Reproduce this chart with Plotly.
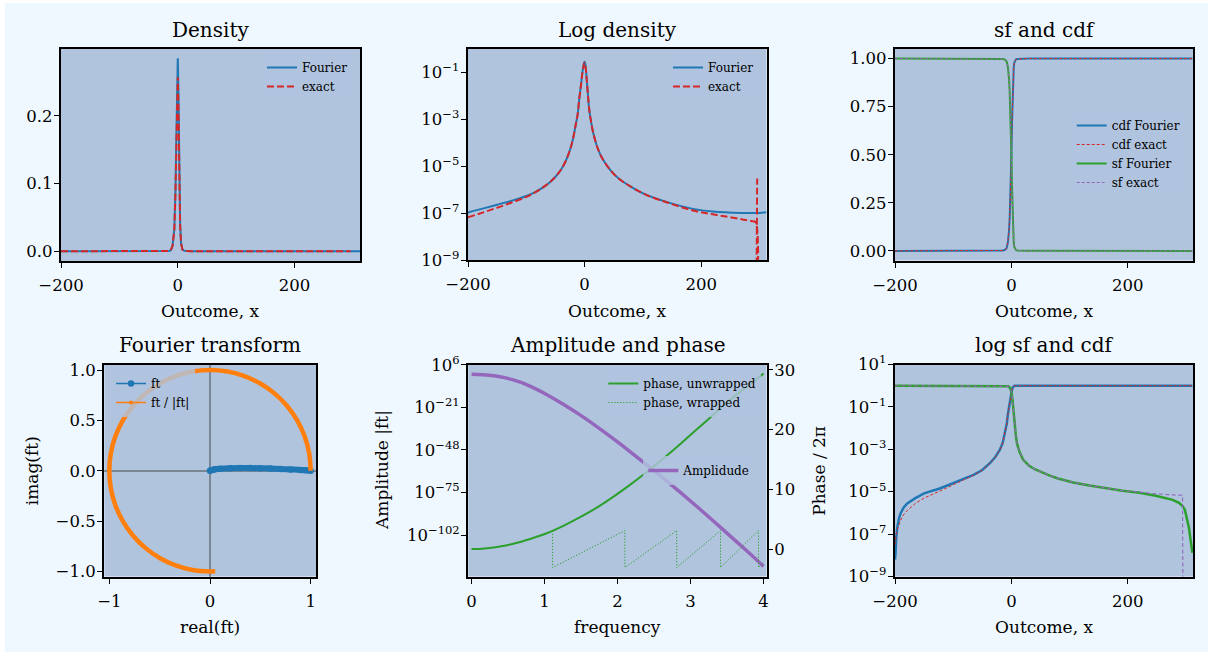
import plotly.graph_objects as go

# ---------------- data ----------------
x_dens = [-200, -175, -150, -125, -100, -85, -70, -60, -50, -40, -32, -25, -20, -15, -12,
          -9, -6, -4, -2, -1, 0, 1, 2, 3, 4, 5.6, 8, 11.3, 15, 22.7, 30, 45.6, 60, 74, 103,
          143, 188, 220, 246, 270, 286, 293, 294, 296, 300, 312]
dens_fourier = [1.07e-7, 1.55e-7, 2.29e-7, 3.39e-7, 5.37e-7,
                7.85e-7, 1.32e-6, 2.04e-6, 3.55e-6, 7.41e-6,
                1.76e-5, 5.01e-5, 1.41e-4, 6.31e-4, 1.58e-3,
                7.94e-3, 3.16e-2, 8.91e-2, 0.191, 0.251,
                0.285, 0.240, 0.158, 7.94e-2, 3.98e-2,
                1.2e-2, 2.51e-3, 7.41e-4, 2.51e-4, 5.62e-5,
                2.24e-5, 6.17e-6, 2.79e-6, 1.62e-6, 6.46e-7,
                2.88e-7, 1.48e-7, 1.17e-7, 1.07e-7, 1.02e-7,
                1.0e-7, 1.0e-7, 1.0e-7, 1.0e-7, 1.02e-7, 1.10e-7]
dens_exact = [6.6e-8, 1.05e-7, 1.7e-7, 2.82e-7, 4.9e-7, 7.59e-7,
              1.32e-6, 2.04e-6, 3.55e-6, 7.41e-6, 1.76e-5, 5.01e-5, 1.41e-4, 6.31e-4,
              1.58e-3, 7.94e-3, 3.16e-2, 8.51e-2, 0.175, 0.228,
              0.257,
              0.218, 0.148, 7.6e-2, 3.9e-2, 1.2e-2, 2.51e-3, 7.41e-4, 2.51e-4, 5.62e-5,
              2.24e-5, 6.17e-6, 2.79e-6, 1.62e-6, 6.46e-7, 2.75e-7,
              1.26e-7, 8.9e-8, 6.9e-8, 5.4e-8, 4.57e-8, 4.17e-8, 1e-12, 3.0e-6, None, None]

x_cdf = [-200, -199, -198, -196, -193, -190.5, -185, -179, -165, -150, -122, -94, -65,
         -50, -37, -28, -20, -15, -11, -8, -6, -5, -4, -3, -2, -1, 0, 1, 2, 3, 4, 5, 6, 8,
         10, 14, 20, 30, 40, 50, 65, 80, 106, 134, 163, 191, 220, 248, 277, 288, 294, 295,
         298, 302, 305, 308, 311]
cdf_fourier = [6.3e-9, 1.26e-8, 6.3e-8, 2.2e-7, 5.6e-7, 9.5e-7, 1.8e-6, 2.8e-6, 5.0e-6,
               8.3e-6, 1.45e-5, 2.95e-5, 6.2e-5, 1.05e-4, 2.2e-4, 4.2e-4, 9.3e-4, 2.0e-3,
               5.6e-3, 1.6e-2, 4.5e-2, 7.0e-2, 0.11, 0.17, 0.26, 0.37, 0.5,
               0.66, 0.8, 0.9, 0.955, 0.98, 0.99, 0.9965, 0.998, 0.99925, 0.9997,
               1.0, 1.0, 1.0, 1.0, 1.0, 1.0, 1.0, 1.0, 1.0, 1.0,
               1.0, 1.0, 1.0, 1.0, 1.0, 1.0, 1.0, 1.0, 1.0, 1.0]
cdf_exact = [3.2e-8, 7.9e-8, 1.0e-7, 1.6e-7, 2.9e-7, 4.5e-7, 8.5e-7, 1.3e-6, 2.8e-6,
             5.0e-6, 1.1e-5, 2.6e-5, 6.0e-5, 1.05e-4, 2.2e-4, 4.2e-4, 9.3e-4, 2.0e-3,
             5.6e-3, 1.6e-2, 4.5e-2, 7.0e-2, 0.11, 0.17, 0.26, 0.37, 0.5,
             0.66, 0.8, 0.9, 0.955, 0.98, 0.99, 0.9965, 0.998, 0.99925, 0.9997,
             1.0, 1.0, 1.0, 1.0, 1.0, 1.0, 1.0, 1.0, 1.0, 1.0,
             1.0, 1.0, 1.0, 1.0, 1.0, 1.0, 1.0, 1.0, 1.0, 1.0]
sf_fourier = [1.0, 1.0, 1.0, 1.0, 1.0, 1.0, 1.0, 1.0, 1.0, 1.0, 1.0, 1.0, 1.0, 1.0, 1.0, 1.0,
              0.999, 0.998, 0.995, 0.984, 0.955, 0.93, 0.89, 0.83, 0.74, 0.63, 0.5,
              0.34, 0.2, 0.1, 0.045, 0.02, 0.01, 3.5e-3, 1.7e-3, 7.5e-4, 3.3e-4,
              1.7e-4, 1.15e-4, 8.5e-5, 5.9e-5, 4.2e-5, 2.7e-5, 1.95e-5, 1.45e-5, 1.12e-5,
              8.9e-6, 6.5e-6, 4.1e-6, 3.0e-6, 2.1e-6, 1.95e-6, 1.4e-6, 4.7e-7, 2.0e-7,
              5.0e-8, 1.3e-8]
sf_exact = [1.0, 1.0, 1.0, 1.0, 1.0, 1.0, 1.0, 1.0, 1.0, 1.0, 1.0, 1.0, 1.0, 1.0, 1.0, 1.0,
            0.999, 0.998, 0.995, 0.984, 0.955, 0.93, 0.89, 0.83, 0.74, 0.63, 0.5,
            0.34, 0.2, 0.1, 0.045, 0.02, 0.01, 3.5e-3, 1.7e-3, 7.5e-4, 3.3e-4,
            1.7e-4, 1.15e-4, 8.5e-5, 5.9e-5, 4.2e-5, 2.7e-5, 1.95e-5, 1.45e-5, 1.12e-5,
            9.5e-6, 7.9e-6, 7.1e-6, 6.9e-6, 6.8e-6, 1e-12, 1e-12, 1e-12, 1e-12,
            1e-12, 1e-12]

ft_real = [1.0, 0.95, 0.9, 0.8, 0.7, 0.6, 0.5, 0.4, 0.3, 0.2, 0.1, 0.05, 0.03, 0.01, 0.0]
ft_imag = [0.0, 0.004, 0.008, 0.013, 0.018, 0.022, 0.025, 0.027, 0.027, 0.025, 0.02,
           0.015, 0.011, 0.005, 0.0]
unit_real = [1.0, 0.985, 0.940, 0.866, 0.766, 0.643, 0.5, 0.342, 0.174, 0.0, -0.174, -0.342,
             -0.5, -0.643, -0.766, -0.866, -0.940, -0.985, -1.0, -0.985, -0.940, -0.866,
             -0.766, -0.643, -0.5, -0.342, -0.174, 0.0, 0.052]
unit_imag = [0.0, 0.174, 0.342, 0.5, 0.643, 0.766, 0.866, 0.940, 0.985, 1.0, 0.985, 0.940,
             0.866, 0.766, 0.643, 0.5, 0.342, 0.174, 0.0, -0.174, -0.342, -0.5, -0.643,
             -0.766, -0.866, -0.940, -0.985, -1.0, -0.999]

freq = [0, 0.15, 0.33, 0.45, 0.56, 0.68, 0.79, 0.9, 1.02, 1.25, 1.48, 1.71, 1.94, 2.17,
        2.40, 2.63, 2.86, 3.09, 3.32, 3.55, 3.78, 4.0]
amplitude = [1.0, 0.56, 7.9e-2, 7.9e-3, 4.0e-4, 6.3e-6, 5.0e-8, 2.0e-10, 2.5e-13, 1.6e-19,
             2.5e-26, 1e-33, 1.6e-41, 1e-49, 4e-58, 1e-66, 1.26e-75, 1e-84, 5e-94,
             1.6e-103, 4e-113, 1.6e-122]
phase_unwrapped = [0.0, 0.07, 0.3, 0.55, 0.85, 1.23, 1.65, 2.1, 2.6, 3.85, 5.3, 6.9, 8.75,
                   10.75, 12.9, 15.2, 17.6, 20.1, 22.6, 25.1, 27.3, 29.4]
freq_wrapped = [0, 0.15, 0.33, 0.45, 0.56, 0.68, 0.79, 0.9, 1.02, 1.11, 1.11, 2.10, 2.10,
                2.81, 2.81, 3.41, 3.41, 3.93, 3.93, 4.0]
phase_wrapped = [0.0, 0.07, 0.3, 0.55, 0.85, 1.23, 1.65, 2.1, 2.6, 3.1, -3.1, 3.1, -3.1,
                 3.1, -3.1, 3.1, -3.1, 3.1, -3.1, -2.2]

outcome_ticks = [-200, 0, 200]
density_ticks = [0.0, 0.1, 0.2]
logdens_ticks = [1e-1, 1e-3, 1e-5, 1e-7, 1e-9]
logdens_labels = ["10<sup>\u22121</sup>", "10<sup>\u22123</sup>", "10<sup>\u22125</sup>",
                  "10<sup>\u22127</sup>", "10<sup>\u22129</sup>"]
cdf_ticks = [0.0, 0.25, 0.5, 0.75, 1.0]
ft_xticks = [-1, 0, 1]
ft_yticks = [-1.0, -0.5, 0.0, 0.5, 1.0]
freq_ticks = [0, 1, 2, 3, 4]
amp_ticks = [1e6, 1e-21, 1e-48, 1e-75, 1e-102]
amp_labels = ["10<sup>6</sup>", "10<sup>\u221221</sup>", "10<sup>\u221248</sup>",
              "10<sup>\u221275</sup>", "10<sup>\u2212102</sup>"]
phase_ticks = [0, 10, 20, 30]
logcdf_ticks = [1e1, 1e-1, 1e-3, 1e-5, 1e-7, 1e-9]
logcdf_labels = ["10<sup>1</sup>", "10<sup>\u22121</sup>", "10<sup>\u22123</sup>",
                 "10<sup>\u22125</sup>", "10<sup>\u22127</sup>", "10<sup>\u22129</sup>"]

# ---------------- styling ----------------
W, H = 1208, 652
FONT = "DejaVu Serif"
C0, C1, C2, C3, C4 = "#1f77b4", "#ff7f0e", "#2ca02c", "#d62728", "#9467bd"
PLOT_BG = "#b0c4de"
PAPER_BG = "#f0f8ff"
TICK_SIZE = 16.5
LABEL_SIZE = 17
TITLE_SIZE = 20
LEG_SIZE = 12


def dom_x(a, b):
    return [a / W, b / W]


def dom_y(top, bottom):
    return [1 - bottom / H, 1 - top / H]


def ax(domain, rng, anchor, standoff=0, **kw):
    d = dict(domain=domain, range=rng, anchor=anchor, showline=True, linecolor="black",
             linewidth=1.6, mirror=True, ticks="outside", ticklen=5.5, tickwidth=1.4,
             tickcolor="black", showgrid=False, zeroline=False, automargin=False,
             ticklabelstandoff=standoff,
             tickfont=dict(family=FONT, size=TICK_SIZE, color="black"))
    d.update(kw)
    return d


fig = go.Figure()


def line(x, y, xa, ya, color, width, name="", legend="legend", dash=None, show=True,
         mode="lines", marker=None, shape="linear"):
    fig.add_trace(go.Scatter(x=x, y=y, xaxis=xa, yaxis=ya, mode=mode, name=name,
                             line=dict(color=color, width=width, dash=dash, shape=shape),
                             marker=marker, showlegend=show, legend=legend,
                             hoverinfo="skip"))


# Panel 1: Density
line(x_dens, dens_fourier, "x", "y", C0, 2, "Fourier", "legend")
line(x_dens, dens_exact, "x", "y", C3, 2, "exact", "legend", dash="7px,3px")
# Panel 2: Log density
line(x_dens, dens_fourier, "x2", "y2", C0, 2, "Fourier", "legend2", shape="spline")
line(x_dens, dens_exact, "x2", "y2", C3, 2, "exact", "legend2", dash="7px,3px",
     shape="spline")
# Panel 3: sf and cdf
line(x_cdf, cdf_fourier, "x3", "y3", C0, 2, "cdf Fourier", "legend3")
line(x_cdf, cdf_exact, "x3", "y3", C3, 1, "cdf exact", "legend3", dash="3px,2px")
line(x_cdf, sf_fourier, "x3", "y3", C2, 2, "sf Fourier", "legend3")
line(x_cdf, sf_exact, "x3", "y3", C4, 1, "sf exact", "legend3", dash="3px,2px")
# Panel 4: Fourier transform
line(ft_real, ft_imag, "x4", "y4", C0, 6, show=False, mode="lines+markers",
     marker=dict(size=6.5, color=C0), shape="spline")
line(unit_real, unit_imag, "x4", "y4", C1, 4.5, show=False, mode="lines",
     shape="spline")
line([None], [None], "x4", "y4", C0, 1.5, "ft", "legend4", mode="lines+markers",
     marker=dict(size=6.5, color=C0))
line([None], [None], "x4", "y4", C1, 1.5, "ft / |ft|", "legend4", mode="lines+markers",
     marker=dict(size=4, color=C1))
# Panel 5: Amplitude and phase
line(freq, amplitude, "x5", "y5", C4, 3.5, "Amplidude", "legend6", shape="spline")
line(freq, phase_unwrapped, "x5", "y7", C2, 2, "phase, unwrapped", "legend5",
     shape="spline")
line(freq_wrapped, phase_wrapped, "x5", "y7", C2, 1, "phase, wrapped", "legend5",
     dash="1.2px,1.8px")
# Panel 6: log sf and cdf
line(x_cdf, cdf_fourier, "x6", "y6", C0, 2.5, show=False)
line(x_cdf, cdf_exact, "x6", "y6", C3, 1, show=False, dash="3px,2px")
line(x_cdf, sf_fourier, "x6", "y6", C2, 2.5, show=False)
line(x_cdf, sf_exact, "x6", "y6", C4, 1.1, show=False, dash="4px,2.5px")

XR = [-200, 312]
XS, YS = 3, -2
layout = dict(
    template="none",
    width=W, height=H, margin=dict(l=0, r=0, t=0, b=0, pad=0, autoexpand=False),
    paper_bgcolor=PAPER_BG, plot_bgcolor=PLOT_BG,
    font=dict(family=FONT, color="black"),
    xaxis=ax(dom_x(61, 360), XR, "y", XS, tickvals=outcome_ticks),
    yaxis=ax(dom_y(49, 261), [-0.0143, 0.2986], "x", YS, tickvals=density_ticks,
             tickformat=".1f"),
    xaxis2=ax(dom_x(468, 766.5), XR, "y2", XS, tickvals=outcome_ticks),
    yaxis2=ax(dom_y(49, 260), [-9, 0], "x2", YS, type="log", tickvals=logdens_ticks,
              ticktext=logdens_labels),
    xaxis3=ax(dom_x(895, 1193), XR, "y3", XS, tickvals=outcome_ticks),
    yaxis3=ax(dom_y(49, 260.5), [-0.05, 1.05], "x3", YS, tickvals=cdf_ticks,
              tickformat=".2f"),
    xaxis4=ax(dom_x(104.3, 316), [-1.05, 1.053], "y4", XS, tickvals=ft_xticks,
              zeroline=True, zerolinecolor="rgba(60,60,60,0.45)", zerolinewidth=1.5),
    yaxis4=ax(dom_y(364.5, 576.5), [-1.05, 1.055], "x4", YS, tickvals=ft_yticks,
              tickformat=".1f", zeroline=True, zerolinecolor="rgba(60,60,60,0.45)",
              zerolinewidth=1.5),
    xaxis5=ax(dom_x(468.3, 766.5), [-0.045, 4.04], "y5", XS, tickvals=freq_ticks),
    yaxis5=ax(dom_y(364.5, 576.5), [-128.2, 6.2], "x5", YS, type="log",
              tickvals=amp_ticks, ticktext=amp_labels),
    yaxis7=dict(overlaying="y5", side="right", anchor="x5", range=[-4.6, 30.92],
                showline=False, ticks="outside", ticklen=5.5, tickwidth=1.4,
                tickcolor="black", showgrid=False, zeroline=False, tickvals=phase_ticks,
                automargin=False, ticklabelstandoff=YS,
                tickfont=dict(family=FONT, size=TICK_SIZE, color="black")),
    xaxis6=ax(dom_x(895, 1193), XR, "y6", XS, tickvals=outcome_ticks),
    yaxis6=ax(dom_y(364.5, 576.5), [-9, 1], "x6", YS, type="log", tickvals=logcdf_ticks,
              ticktext=logcdf_labels),
    hovermode=False,
)


def leg(xpx, ypx):
    return dict(x=xpx / W, y=1 - ypx / H, xanchor="left", yanchor="top",
                bgcolor="rgba(176,196,222,0.8)", borderwidth=0, itemwidth=30,
                font=dict(family=FONT, size=LEG_SIZE, color="black"), tracegroupgap=0)


layout["legend"] = leg(262, 53)
layout["legend2"] = leg(668, 53)
layout["legend3"] = leg(1071.7, 111)
layout["legend4"] = leg(111, 369)
layout["legend5"] = leg(603.3, 369)
layout["legend6"] = leg(643.3, 456)

annos = []


def text(s, xpx, ypx, size, angle=0):
    annos.append(dict(text=s, x=xpx / W, y=1 - ypx / H, xref="paper", yref="paper",
                      xanchor="center", yanchor="middle", showarrow=False, textangle=angle,
                      font=dict(family=FONT, size=size, color="black")))


text("Density", 210.5, 29.5, TITLE_SIZE)
text("Log density", 617, 29.5, TITLE_SIZE)
text("sf and cdf", 1044, 29.5, TITLE_SIZE)
text("Fourier transform", 210, 345, TITLE_SIZE)
text("Amplitude and phase", 617.5, 345, TITLE_SIZE)
text("log sf and cdf", 1044, 345, TITLE_SIZE)
text("Outcome, x", 210.5, 311, LABEL_SIZE)
text("Outcome, x", 617, 311, LABEL_SIZE)
text("Outcome, x", 1044, 311, LABEL_SIZE)
text("real(ft)", 210, 627, LABEL_SIZE)
text("frequency", 617.5, 627, LABEL_SIZE)
text("Outcome, x", 1044, 627, LABEL_SIZE)
text("imag(ft)", 31.7, 470.5, LABEL_SIZE, -90)
text("Amplitude |ft|", 381.5, 470.5, LABEL_SIZE, -90)
text("Phase / 2\u03c0", 818.3, 470.5, LABEL_SIZE, -90)
layout["annotations"] = annos
layout["shapes"] = [
    dict(type="rect", xref="paper", yref="paper", x0=0, x1=5 / W, y0=0, y1=1,
         fillcolor="white", line=dict(width=0), layer="below"),
    dict(type="rect", xref="paper", yref="paper", x0=0, x1=1, y0=1 - 3 / H, y1=1,
         fillcolor="white", line=dict(width=0), layer="below"),
]

fig.update_layout(**layout)
fig.write_html("out.html")
